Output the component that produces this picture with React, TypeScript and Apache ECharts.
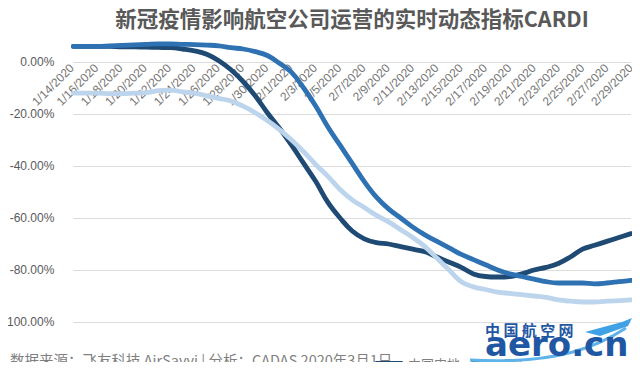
import React, { useEffect, useRef } from "react";
import * as echarts from "echarts";

const dates: string[] = [
  "1/14/2020","1/15/2020","1/16/2020","1/17/2020","1/18/2020","1/19/2020","1/20/2020","1/21/2020",
  "1/22/2020","1/23/2020","1/24/2020","1/25/2020","1/26/2020","1/27/2020","1/28/2020","1/29/2020",
  "1/30/2020","1/31/2020","2/1/2020","2/2/2020","2/3/2020","2/4/2020","2/5/2020","2/6/2020",
  "2/7/2020","2/8/2020","2/9/2020","2/10/2020","2/11/2020","2/12/2020","2/13/2020","2/14/2020",
  "2/15/2020","2/16/2020","2/17/2020","2/18/2020","2/19/2020","2/20/2020","2/21/2020","2/22/2020",
  "2/23/2020","2/24/2020","2/25/2020","2/26/2020","2/27/2020","2/28/2020","2/29/2020",
];

const mainland: number[] = [
  6, 6, 6, 6, 5.8, 5.8, 5.7, 5.6, 5.5, 5, 4.3, 3, 0.5, -3, -7.5, -13,
  -19.5, -25.5, -32, -39, -46, -54, -60, -65, -68, -69.5, -70, -71, -72, -73, -75, -77,
  -79, -81.5, -82.5, -82.7, -82.5, -81.5, -80, -79, -77.5, -75, -72, -70.5, -69, -67.5, -66,
];

const international: number[] = [
  6, 6, 6, 6.2, 6.4, 6.6, 6.8, 7, 7, 6.8, 6.7, 6.5, 6.2, 5.5, 5, 4,
  2.5, -0.5, -4, -10, -17, -25, -32, -39, -46, -52, -56.5, -60, -63.5, -66.5, -69, -71.5,
  -74, -76, -78, -80, -81.5, -82.5, -83.5, -84.5, -85, -85, -85, -85.3, -85, -84.5, -84,
];

const hkMacauTaiwan: number[] = [
  -12, -12, -12, -12.2, -12.2, -12, -11.8, -11, -10.8, -11.5, -12, -13, -14, -15, -17, -19.5,
  -22.5, -26, -30, -34.5, -39.5, -44, -49, -53, -56, -59, -61.5, -64.5, -67.5, -71, -75.5, -80,
  -84.5, -86.5, -87.5, -88.5, -89, -89.5, -90, -90.5, -91.5, -92, -92.3, -92.3, -92, -91.8, -91.5,
];

const seriesNames: string[] = ["中国内地", "国际", "港澳台地区"];
const colors: string[] = ["#1f4a73", "#2e72b3", "#bdd5ec"];

const titleText = "新冠疫情影响航空公司运营的实时动态指标CARDI";
const footerText = "数据来源：飞友科技 AirSavvi | 分析：CADAS 2020年3月1日";

export default function App() {
  const ref = useRef<HTMLDivElement>(null);
  useEffect(() => {
    if (!ref.current) return;
    const chart = echarts.init(ref.current, null, { renderer: "svg" });
    const values = [mainland, international, hkMacauTaiwan];
    chart.setOption({
      animation: false,
      backgroundColor: "#ffffff",
      grid: [
        { left: 72, right: 9, top: 36, bottom: 48, containLabel: false },
        // zero-line band: its bottom edge sits on the 0% line so the date labels hang below it
        { left: 72, right: 9, top: 36, height: 26, containLabel: false },
      ],
      xAxis: [
        {
          type: "category",
          gridIndex: 0,
          data: dates,
          boundaryGap: false,
          axisLine: { show: false },
          axisTick: { show: false },
          axisLabel: { show: false },
          splitLine: { show: false },
        },
        {
          type: "category",
          gridIndex: 1,
          data: dates,
          boundaryGap: false,
          axisLine: { show: false },
          axisTick: { show: false },
          splitLine: { show: false },
          axisLabel: {
            interval: 1,
            rotate: 45,
            margin: 4,
            fontSize: 12,
            color: "#767676",
            fontFamily: "Liberation Sans",
          },
        },
      ],
      yAxis: [
        {
          type: "value",
          gridIndex: 0,
          min: -100,
          max: 10,
          interval: 20,
          axisLine: { show: false },
          axisTick: { show: false },
          splitLine: { showMaxLine: false, lineStyle: { color: "#dcdcdc", width: 1 } },
          axisLabel: {
            margin: 19,
            fontSize: 12,
            color: "#595959",
            fontFamily: "Liberation Sans",
            formatter: (v: number) => (v > 0 ? "" : v.toFixed(2) + "%"),
          },
        },
        {
          type: "value",
          gridIndex: 1,
          show: false,
          min: 0,
          max: 1,
        },
      ],
      legend: {
        left: 370,
        top: 352,
        icon: "roundRect",
        itemWidth: 28,
        itemHeight: 5,
        itemGap: 11,
        textStyle: { fontSize: 13, color: "#7f7f7f", fontFamily: "Noto Sans CJK SC" },
        data: seriesNames,
      },
      series: seriesNames.map((name, i) => ({
        name,
        type: "line",
        xAxisIndex: 0,
        yAxisIndex: 0,
        data: values[i],
        smooth: 0.4,
        symbol: "none",
        clip: false,
        lineStyle: { color: colors[i], width: 4.8, cap: "round", join: "round" },
        itemStyle: { color: colors[i] },
      })),
      graphic: [
        {
          type: "text",
          x: 352,
          y: 17,
          style: {
            text: titleText,
            align: "center",
            verticalAlign: "middle",
            fontSize: 21.5,
            fontWeight: "bold",
            fill: "#595959",
            fontFamily: "Noto Sans CJK SC",
          },
        },
        {
          type: "text",
          x: 10,
          y: 359,
          style: {
            text: footerText,
            verticalAlign: "middle",
            fontSize: 14.5,
            fill: "#7f7f7f",
            fontFamily: "Noto Sans CJK SC",
          },
        },
        {
          type: "bezierCurve",
          shape: { x1: 470, y1: 360, cpx1: 560, cpy1: 365, cpx2: 600, cpy2: 345, x2: 626, y2: 328 },
          style: { stroke: "#5fb3ea", lineWidth: 3, fill: "none" },
          z: 10,
        },
        {
          type: "polygon",
          shape: { points: [[585, 332], [622, 322], [632, 318], [628, 326], [600, 336]] },
          style: { fill: "#3fa2e4" },
          z: 10,
        },
        {
          type: "text",
          x: 485,
          y: 329,
          z: 11,
          style: {
            text: "中 国 航 空 网",
            verticalAlign: "middle",
            fontSize: 15,
            fontWeight: "bold",
            fill: "#1f57a3",
            fontFamily: "Noto Sans CJK SC",
          },
        },
        {
          type: "text",
          x: 485,
          y: 344,
          z: 11,
          style: {
            text: "aero.cn",
            verticalAlign: "middle",
            fontSize: 34,
            fontWeight: "bold",
            fill: "#1f57a3",
            fontFamily: "DejaVu Sans",
          },
        },
      ],
    });
    return () => chart.dispose();
  }, []);
  return <div ref={ref} style={{ width: 640, height: 370, margin: -8 }} />;
}
